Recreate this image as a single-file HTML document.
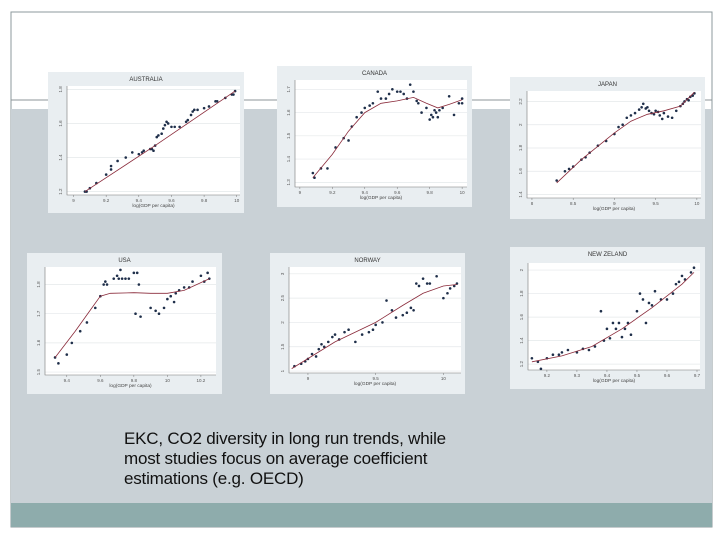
<!DOCTYPE html>
<html><head><meta charset="utf-8">
<style>
html,body{margin:0;padding:0;width:720px;height:540px;background:#fff;overflow:hidden;font-family:"Liberation Sans",sans-serif}
#slide{position:absolute;left:0;top:0;width:720px;height:540px}
.caption{position:absolute;left:124px;top:429px;font-size:17px;line-height:20px;color:#111;letter-spacing:-0.2px}
</style></head>
<body>
<div id="slide">
<svg id="svg" width="720" height="540" viewBox="0 0 720 540">
  <rect x="11" y="12" width="701" height="515" fill="#fff" stroke="#8e9a9c" stroke-width="1"/>
  <rect x="11" y="109" width="701" height="394" fill="#c9d1d6"/>
  <line x1="11" y1="100" x2="712" y2="100" stroke="#8d9699" stroke-width="1"/>
  <rect x="11" y="503" width="701" height="24" fill="#8eacac"/>
  <g id="charts"></g>
</svg>
<div class="caption">EKC, CO2 diversity in long run trends, while<br>most studies focus on average coefficient<br>estimations (e.g. OECD)</div>
</div>
<script>
// ---- AUSTRALIA
const ausX=[9.07,9.08,9.1,9.14,9.2,9.23,9.23,9.27,9.32,9.36,9.4,9.42,9.43,9.47,9.48,9.49,9.5,9.51,9.52,9.54,9.55,9.56,9.57,9.58,9.6,9.62,9.65,9.69,9.7,9.72,9.73,9.74,9.76,9.8,9.83,9.87,9.88,9.93,9.97,9.98,9.99];
const ausY=[1.2,1.2,1.22,1.25,1.3,1.35,1.33,1.38,1.4,1.43,1.42,1.43,1.44,1.45,1.45,1.44,1.47,1.52,1.53,1.54,1.57,1.59,1.61,1.6,1.58,1.58,1.58,1.61,1.62,1.65,1.67,1.68,1.68,1.69,1.7,1.73,1.73,1.75,1.77,1.77,1.79];
const ausFitX=[9.07,9.5,9.99];
const ausFitY=[1.2,1.47,1.79];
const ausXTicks=[9,9.2,9.4,9.6,9.8,10];
const ausYTicks=[1.2,1.4,1.6,1.8];
// ---- CANADA
const canX=[9.08,9.09,9.13,9.17,9.22,9.27,9.3,9.32,9.35,9.38,9.4,9.43,9.45,9.48,9.5,9.53,9.55,9.57,9.6,9.62,9.64,9.66,9.68,9.7,9.72,9.73,9.75,9.78,9.8,9.81,9.82,9.83,9.84,9.85,9.86,9.88,9.92,9.95,9.98,10,10];
const canY=[1.34,1.32,1.36,1.36,1.45,1.49,1.48,1.54,1.58,1.6,1.62,1.63,1.64,1.69,1.66,1.66,1.68,1.7,1.69,1.69,1.68,1.66,1.72,1.69,1.65,1.64,1.6,1.62,1.57,1.59,1.58,1.61,1.6,1.58,1.61,1.62,1.67,1.59,1.64,1.66,1.64];
const canFitX=[9.08,9.2,9.3,9.4,9.5,9.6,9.7,9.78,9.85,9.92,10];
const canFitY=[1.32,1.42,1.52,1.6,1.64,1.65,1.665,1.64,1.62,1.635,1.655];
const canXTicks=[9,9.2,9.4,9.6,9.8,10];
const canYTicks=[1.3,1.4,1.5,1.6,1.7];
// ---- JAPAN
const jpnX=[8.3,8.4,8.45,8.5,8.6,8.65,8.7,8.8,8.9,9,9.05,9.1,9.15,9.2,9.25,9.3,9.33,9.35,9.38,9.4,9.42,9.45,9.48,9.5,9.53,9.55,9.58,9.6,9.65,9.7,9.75,9.8,9.83,9.85,9.88,9.9,9.92,9.95,9.97];
const jpnY=[1.52,1.6,1.62,1.64,1.7,1.72,1.76,1.82,1.86,1.92,1.98,2.0,2.06,2.08,2.1,2.13,2.15,2.18,2.14,2.15,2.12,2.1,2.09,2.12,2.11,2.08,2.05,2.1,2.07,2.06,2.12,2.16,2.18,2.2,2.22,2.21,2.24,2.25,2.27];
const jpnFitX=[8.3,8.6,9,9.2,9.4,9.6,9.8,9.97];
const jpnFitY=[1.5,1.7,1.93,2.03,2.09,2.12,2.16,2.28];
const jpnXTicks=[8,8.5,9,9.5,10];
const jpnYTicks=[1.4,1.6,1.8,2,2.2];
// ---- USA
const usaX=[9.33,9.35,9.4,9.43,9.48,9.52,9.57,9.6,9.62,9.63,9.64,9.68,9.7,9.71,9.72,9.73,9.75,9.77,9.8,9.81,9.82,9.83,9.84,9.9,9.93,9.95,9.98,10,10.02,10.04,10.05,10.07,10.1,10.13,10.15,10.2,10.22,10.24,10.25];
const usaY=[1.55,1.53,1.56,1.6,1.64,1.67,1.72,1.76,1.8,1.81,1.8,1.82,1.83,1.82,1.85,1.82,1.82,1.82,1.84,1.7,1.84,1.8,1.69,1.72,1.71,1.7,1.72,1.75,1.76,1.74,1.77,1.78,1.79,1.79,1.81,1.83,1.81,1.84,1.82];
const usaFitX=[9.33,9.45,9.55,9.6,9.66,9.8,9.9,10,10.1,10.25];
const usaFitY=[1.55,1.64,1.72,1.76,1.77,1.772,1.77,1.77,1.78,1.82];
const usaXTicks=[9.4,9.6,9.8,10,10.2];
const usaYTicks=[1.5,1.6,1.7,1.8];
// ---- NORWAY
const norX=[8.9,8.95,8.98,9,9.03,9.06,9.08,9.1,9.12,9.15,9.18,9.2,9.23,9.27,9.3,9.35,9.4,9.45,9.48,9.5,9.55,9.58,9.62,9.65,9.7,9.73,9.76,9.78,9.8,9.82,9.85,9.88,9.9,9.95,10,10.03,10.05,10.08,10.1];
const norY=[1.1,1.15,1.2,1.25,1.35,1.3,1.45,1.55,1.5,1.6,1.7,1.75,1.65,1.8,1.85,1.6,1.75,1.8,1.85,1.95,2.0,2.45,2.25,2.1,2.15,2.2,2.3,2.25,2.8,2.75,2.9,2.8,2.8,2.95,2.5,2.6,2.7,2.75,2.8];
const norFitX=[8.88,9.2,9.5,9.7,9.85,10,10.1];
const norFitY=[1.05,1.6,2.0,2.35,2.6,2.75,2.78];
const norXTicks=[9,9.5,10];
const norYTicks=[1,1.5,2,2.5,3];
// ---- NEW ZEALAND
const nzlX=[9.15,9.17,9.18,9.2,9.22,9.24,9.25,9.27,9.3,9.32,9.34,9.36,9.38,9.39,9.4,9.41,9.42,9.43,9.44,9.45,9.46,9.47,9.48,9.5,9.51,9.52,9.53,9.54,9.55,9.56,9.58,9.6,9.62,9.63,9.64,9.65,9.66,9.68,9.69];
const nzlY=[1.25,1.22,1.16,1.25,1.28,1.28,1.3,1.32,1.3,1.33,1.32,1.35,1.65,1.4,1.5,1.42,1.55,1.5,1.55,1.43,1.5,1.55,1.45,1.65,1.8,1.75,1.55,1.72,1.7,1.82,1.75,1.75,1.8,1.88,1.9,1.95,1.92,1.98,2.02];
const nzlFitX=[9.15,9.25,9.35,9.45,9.55,9.65,9.69];
const nzlFitY=[1.22,1.27,1.35,1.5,1.68,1.88,1.98];
const nzlXTicks=[9.2,9.3,9.4,9.5,9.6,9.7];
const nzlYTicks=[1.2,1.4,1.6,1.8,2];

const NS='http://www.w3.org/2000/svg';
const root=document.getElementById('charts');
function mk(tag,attrs,parent){const e=document.createElementNS(NS,tag);for(const k in attrs)e.setAttribute(k,attrs[k]);parent.appendChild(e);return e;}

function drawChart(key,title,panel,plot,xd,yd,xs,ys,fx,fy,xt,yt){
  const g=mk('g',{},root);
  
  
  const bg=mk('rect',{x:panel[0],y:panel[1],width:panel[2],height:panel[3],fill:'#e9eef1'},g);
  
  
  const pa=mk('rect',{x:plot[0],y:plot[1],width:plot[2],height:plot[3],fill:'#fff'},g);
  
  
  const sx=v=>plot[0]+(v-xd[0])/(xd[1]-xd[0])*plot[2];
  const sy=v=>plot[1]+plot[3]-(v-yd[0])/(yd[1]-yd[0])*plot[3];
  const t=mk('text',{x:panel[0]+panel[2]/2,y:panel[1]+9,'font-size':6,'text-anchor':'middle',fill:'#333'},g);
  t.textContent=title;
  
  
  yt.forEach(v=>{
    const gl=mk('line',{x1:plot[0],x2:plot[0]+plot[2],y1:sy(v),y2:sy(v),stroke:'#e4e8ea','stroke-width':0.7},g);
    
    
    const tl=mk('text',{x:plot[0]-5,y:sy(v),'font-size':4.5,'text-anchor':'middle',fill:'#555',transform:'rotate(-90 '+(plot[0]-5)+' '+sy(v)+')'},g);
    tl.textContent=String(v);
    
    
  });
  xt.forEach(v=>{
    const tl=mk('text',{x:sx(v),y:plot[1]+plot[3]+7,'font-size':4.5,'text-anchor':'middle',fill:'#555'},g);
    tl.textContent=String(v);
    
    
    mk('line',{x1:sx(v),x2:sx(v),y1:plot[1]+plot[3],y2:plot[1]+plot[3]+2,stroke:'#777','stroke-width':0.5},g);
  });
  const ax=mk('path',{d:'M'+plot[0]+' '+plot[1]+'V'+(plot[1]+plot[3])+'H'+(plot[0]+plot[2]),fill:'none',stroke:'#777','stroke-width':0.6},g);
  
  
  const xl=mk('text',{x:plot[0]+plot[2]/2,y:plot[1]+plot[3]+12,'font-size':4.8,'text-anchor':'middle',fill:'#444'},g);
  xl.textContent='log(GDP per capita)';
  
  
  xs.forEach((v,i)=>{
    const c=mk('circle',{cx:sx(v),cy:sy(ys[i]),r:1.3,fill:'#1f2f4a'},g);
    
    
  });
  const p=mk('path',{d:fx.map((v,i)=>(i?'L':'M')+sx(v).toFixed(1)+' '+sy(fy[i]).toFixed(1)).join(''),fill:'none',stroke:'#8a2a3a','stroke-width':0.8},g);
  
  
}
drawChart('australia','AUSTRALIA',[48,72,196,141],[67,86,173,109],[8.96,10.02],[1.18,1.82],ausX,ausY,ausFitX,ausFitY,ausXTicks,ausYTicks);
drawChart('canada','CANADA',[277,66,195,141],[295,80,172,107],[8.97,10.03],[1.28,1.74],canX,canY,canFitX,canFitY,canXTicks,canYTicks);
drawChart('japan','JAPAN',[510,77,195,142],[527,91,174,107],[7.94,10.05],[1.37,2.29],jpnX,jpnY,jpnFitX,jpnFitY,jpnXTicks,jpnYTicks);
drawChart('usa','USA',[27,253,195,141],[45,267,171,108],[9.27,10.29],[1.49,1.86],usaX,usaY,usaFitX,usaFitY,usaXTicks,usaYTicks);
drawChart('norway','NORWAY',[270,253,195,141],[289,267,172,106],[8.86,10.13],[0.96,3.14],norX,norY,norFitX,norFitY,norXTicks,norYTicks);
drawChart('new-zealand','NEW ZELAND',[510,247,195,142],[528,263,172,107],[9.137,9.71],[1.15,2.06],nzlX,nzlY,nzlFitX,nzlFitY,nzlXTicks,nzlYTicks);
</script>
</body></html>
